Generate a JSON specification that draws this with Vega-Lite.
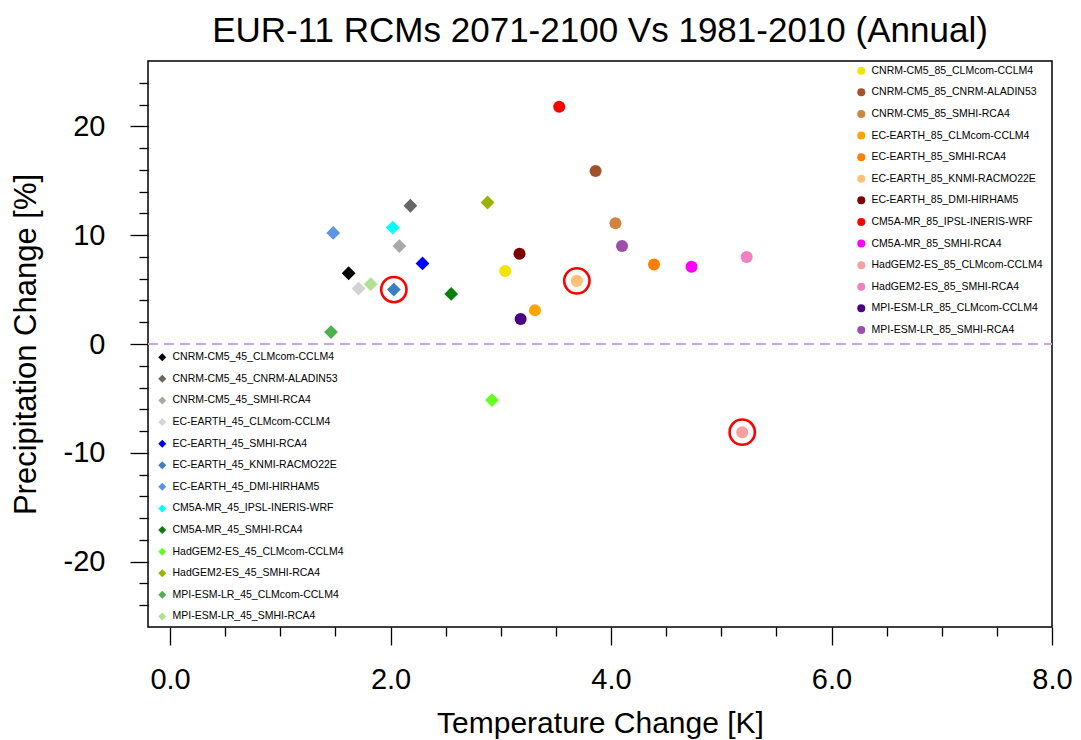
{
  "$schema": "https://vega.github.io/schema/vega-lite/v6.json",
  "width": 904,
  "height": 566,
  "autosize": {"type": "none"},
  "padding": {"left": 148, "top": 61, "right": 29, "bottom": 113},
  "background": "white",
  "title": {
    "text": "EUR-11 RCMs 2071-2100 Vs 1981-2010 (Annual)",
    "font": "Liberation Sans",
    "fontSize": 35,
    "fontWeight": "normal",
    "color": "black",
    "anchor": "middle",
    "offset": 12
  },
  "config": {
    "view": {"stroke": "black", "strokeWidth": 1.5},
    "axis": {
      "domain": false,
      "grid": false,
      "tickColor": "black",
      "tickWidth": 1.3,
      "labelFont": "Liberation Sans",
      "labelFontSize": 29,
      "labelColor": "black",
      "labelFlush": false,
      "labelOverlap": false,
      "labelBound": false,
      "titleFont": "Liberation Sans",
      "titleFontSize": 30,
      "titleFontWeight": "normal",
      "titleColor": "black"
    },
    "legend": {
      "labelFont": "Liberation Sans",
      "labelFontSize": 10.5,
      "labelColor": "black",
      "labelLimit": 300,
      "labelOffset": 5,
      "rowPadding": 10.6,
      "padding": 0,
      "symbolSize": 64,
      "symbolStrokeWidth": 0,
      "symbolOpacity": 1
    }
  },
  "data": {
    "values": [
      {"model": "CNRM-CM5_45_CLMcom-CCLM4", "rcp": "45", "dT": 1.62, "dP": 6.5, "hl": false},
      {"model": "CNRM-CM5_45_CNRM-ALADIN53", "rcp": "45", "dT": 2.18, "dP": 12.7, "hl": false},
      {"model": "CNRM-CM5_45_SMHI-RCA4", "rcp": "45", "dT": 2.08, "dP": 9.0, "hl": false},
      {"model": "EC-EARTH_45_CLMcom-CCLM4", "rcp": "45", "dT": 1.71, "dP": 5.1, "hl": false},
      {"model": "EC-EARTH_45_SMHI-RCA4", "rcp": "45", "dT": 2.29, "dP": 7.4, "hl": false},
      {"model": "EC-EARTH_45_KNMI-RACMO22E", "rcp": "45", "dT": 2.03, "dP": 5.0, "hl": true},
      {"model": "EC-EARTH_45_DMI-HIRHAM5", "rcp": "45", "dT": 1.48, "dP": 10.2, "hl": false},
      {"model": "CM5A-MR_45_IPSL-INERIS-WRF", "rcp": "45", "dT": 2.02, "dP": 10.7, "hl": false},
      {"model": "CM5A-MR_45_SMHI-RCA4", "rcp": "45", "dT": 2.55, "dP": 4.6, "hl": false},
      {"model": "HadGEM2-ES_45_CLMcom-CCLM4", "rcp": "45", "dT": 2.92, "dP": -5.15, "hl": false},
      {"model": "HadGEM2-ES_45_SMHI-RCA4", "rcp": "45", "dT": 2.88, "dP": 13.0, "hl": false},
      {"model": "MPI-ESM-LR_45_CLMcom-CCLM4", "rcp": "45", "dT": 1.46, "dP": 1.1, "hl": false},
      {"model": "MPI-ESM-LR_45_SMHI-RCA4", "rcp": "45", "dT": 1.82, "dP": 5.5, "hl": false},
      {"model": "CNRM-CM5_85_CLMcom-CCLM4", "rcp": "85", "dT": 3.04, "dP": 6.7, "hl": false},
      {"model": "CNRM-CM5_85_CNRM-ALADIN53", "rcp": "85", "dT": 3.86, "dP": 15.9, "hl": false},
      {"model": "CNRM-CM5_85_SMHI-RCA4", "rcp": "85", "dT": 4.04, "dP": 11.1, "hl": false},
      {"model": "EC-EARTH_85_CLMcom-CCLM4", "rcp": "85", "dT": 3.31, "dP": 3.1, "hl": false},
      {"model": "EC-EARTH_85_SMHI-RCA4", "rcp": "85", "dT": 4.39, "dP": 7.3, "hl": false},
      {"model": "EC-EARTH_85_KNMI-RACMO22E", "rcp": "85", "dT": 3.69, "dP": 5.8, "hl": true},
      {"model": "EC-EARTH_85_DMI-HIRHAM5", "rcp": "85", "dT": 3.17, "dP": 8.3, "hl": false},
      {"model": "CM5A-MR_85_IPSL-INERIS-WRF", "rcp": "85", "dT": 3.53, "dP": 21.8, "hl": false},
      {"model": "CM5A-MR_85_SMHI-RCA4", "rcp": "85", "dT": 4.73, "dP": 7.1, "hl": false},
      {"model": "HadGEM2-ES_85_CLMcom-CCLM4", "rcp": "85", "dT": 5.19, "dP": -8.1, "hl": true},
      {"model": "HadGEM2-ES_85_SMHI-RCA4", "rcp": "85", "dT": 5.23, "dP": 8.0, "hl": false},
      {"model": "MPI-ESM-LR_85_CLMcom-CCLM4", "rcp": "85", "dT": 3.18, "dP": 2.3, "hl": false},
      {"model": "MPI-ESM-LR_85_SMHI-RCA4", "rcp": "85", "dT": 4.10, "dP": 9.0, "hl": false}
    ]
  },
  "encoding": {
    "x": {
      "field": "dT",
      "type": "quantitative",
      "scale": {"domain": [-0.2, 8.0], "nice": false, "zero": false},
      "axis": {
        "title": "Temperature Change [K]",
        "titlePadding": 14,
        "values": [0, 0.5, 1, 1.5, 2, 2.5, 3, 3.5, 4, 4.5, 5, 5.5, 6, 6.5, 7, 7.5, 8],
        "labelExpr": "datum.value % 2 === 0 ? format(datum.value, '.1f') : ''",
        "tickSize": {"condition": {"test": "datum.value % 2 === 0", "value": 18}, "value": 9},
        "labelPadding": 20
      }
    },
    "y": {
      "field": "dP",
      "type": "quantitative",
      "scale": {"domain": [-26, 26], "nice": false, "zero": false},
      "axis": {
        "title": "Precipitation Change [%]",
        "titleFontSize": 31,
        "titlePadding": 21,
        "values": [-24, -22, -20, -18, -16, -14, -12, -10, -8, -6, -4, -2, 0, 2, 4, 6, 8, 10, 12, 14, 16, 18, 20, 22, 24],
        "labelExpr": "datum.value % 10 === 0 ? '' + datum.value : ''",
        "tickSize": {"condition": {"test": "datum.value % 10 === 0", "value": 18}, "value": 9},
        "labelPadding": 25
      }
    }
  },
  "layer": [
    {
      "mark": {"type": "rule", "color": "#c4a8e4", "strokeWidth": 1.5, "strokeDash": [10, 6]},
      "encoding": {"y": {"datum": 0}, "x": {"value": 0}, "x2": {"value": 904}}
    },
    {
      "transform": [{"filter": "datum.rcp === '45'"}],
      "mark": {"type": "point", "shape": "diamond", "filled": true, "size": 190, "opacity": 1, "strokeWidth": 0},
      "encoding": {
        "color": {
          "field": "model",
          "type": "nominal",
          "scale": {
            "domain": ["CNRM-CM5_45_CLMcom-CCLM4", "CNRM-CM5_45_CNRM-ALADIN53", "CNRM-CM5_45_SMHI-RCA4", "EC-EARTH_45_CLMcom-CCLM4", "EC-EARTH_45_SMHI-RCA4", "EC-EARTH_45_KNMI-RACMO22E", "EC-EARTH_45_DMI-HIRHAM5", "CM5A-MR_45_IPSL-INERIS-WRF", "CM5A-MR_45_SMHI-RCA4", "HadGEM2-ES_45_CLMcom-CCLM4", "HadGEM2-ES_45_SMHI-RCA4", "MPI-ESM-LR_45_CLMcom-CCLM4", "MPI-ESM-LR_45_SMHI-RCA4"],
            "range": ["#000000", "#666666", "#a9a9a9", "#d3d3d3", "#0000ff", "#3b7fc0", "#5b95e5", "#00ffff", "#0a800a", "#66ff22", "#99b300", "#4caf50", "#b0e090"]
          },
          "legend": {"title": null, "orient": "none", "legendX": 9, "legendY": 291, "symbolType": "diamond"}
        }
      }
    },
    {
      "transform": [{"filter": "datum.rcp === '85'"}],
      "mark": {"type": "point", "shape": "circle", "filled": true, "size": 145, "opacity": 1, "strokeWidth": 0},
      "encoding": {
        "color": {
          "field": "model",
          "type": "nominal",
          "scale": {
            "domain": ["CNRM-CM5_85_CLMcom-CCLM4", "CNRM-CM5_85_CNRM-ALADIN53", "CNRM-CM5_85_SMHI-RCA4", "EC-EARTH_85_CLMcom-CCLM4", "EC-EARTH_85_SMHI-RCA4", "EC-EARTH_85_KNMI-RACMO22E", "EC-EARTH_85_DMI-HIRHAM5", "CM5A-MR_85_IPSL-INERIS-WRF", "CM5A-MR_85_SMHI-RCA4", "HadGEM2-ES_85_CLMcom-CCLM4", "HadGEM2-ES_85_SMHI-RCA4", "MPI-ESM-LR_85_CLMcom-CCLM4", "MPI-ESM-LR_85_SMHI-RCA4"],
            "range": ["#f0e400", "#a0522d", "#cd853f", "#ffa500", "#ff8000", "#ffc07a", "#800000", "#ff0000", "#ff00ff", "#f8a0a0", "#f080c0", "#4b0082", "#9b4fa8"]
          },
          "legend": {"title": null, "orient": "none", "legendX": 708, "legendY": 4.5, "symbolType": "circle"}
        }
      }
    },
    {
      "transform": [{"filter": "datum.hl"}],
      "mark": {"type": "point", "shape": "circle", "filled": false, "size": 640, "opacity": 1, "stroke": "#ff0000", "strokeWidth": 2.6}
    }
  ],
  "resolve": {"scale": {"color": "independent"}}
}
